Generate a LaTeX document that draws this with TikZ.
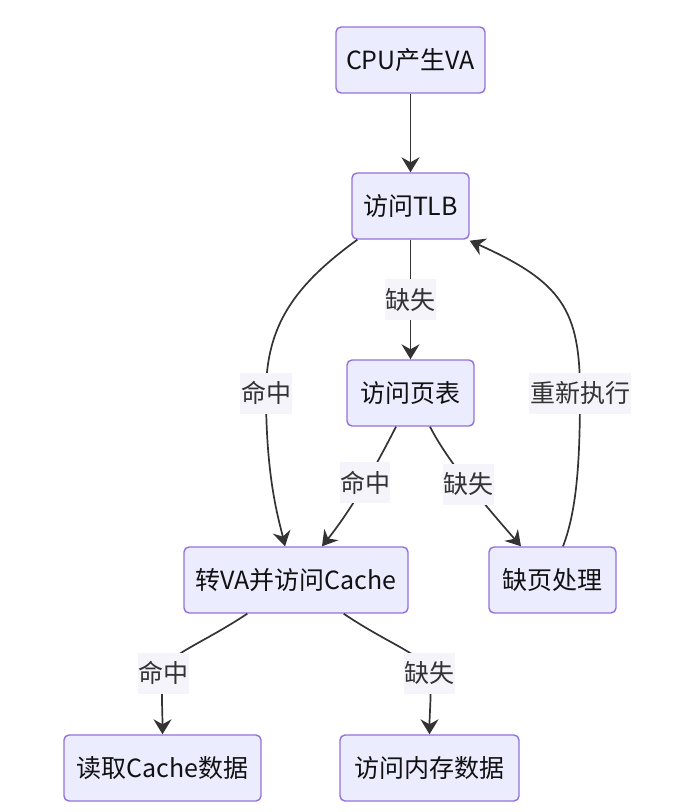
\documentclass[tikz,border=0pt]{standalone}
\usepackage{fontspec}
\setmainfont{Noto Sans CJK SC}
\usetikzlibrary{arrows.meta}
\definecolor{nodefill}{HTML}{ECECFF}
\definecolor{nodedraw}{HTML}{9370DB}
\definecolor{edgecol}{HTML}{333333}
\definecolor{lblfill}{HTML}{F4F4FA}
\definecolor{txtcol}{HTML}{111111}
\tikzset{
  box/.style={draw=nodedraw, fill=nodefill, line width=1.4pt, rounded corners=5pt,
    minimum height=66pt, inner xsep=0pt, text=txtcol,
    font=\fontsize{25}{29}\selectfont},
  lbl/.style={fill=lblfill, text=edgecol, minimum height=41pt, inner xsep=0pt, inner ysep=0pt,
    font=\fontsize{25}{29}\selectfont},
  edge/.style={draw=edgecol, line width=1.7pt,
    -{Stealth[length=15pt, width=18pt, inset=5pt]}},
}
\begin{document}
\begin{tikzpicture}[x=1pt, y=-1pt]
\useasboundingbox (0,0) rectangle (690,812);
\node[box, minimum width=149pt] (cpu)   at (410.5,60)  {CPU产生VA};
\node[box, minimum width=117pt] (tlb)   at (410.5,206) {访问TLB};
\node[box, minimum width=127pt] (pt)    at (410.5,393) {访问页表};
\node[box, minimum width=224pt] (cache) at (296,580)   {转VA并访问Cache};
\node[box, minimum width=127pt] (fault) at (552.5,580) {缺页处理};
\node[box, minimum width=197pt] (read)  at (162.5,768) {读取Cache数据};
\node[box, minimum width=179pt] (mem)   at (429.5,768) {访问内存数据};

\draw[edge] (cpu) -- (tlb);
\draw[edge] (tlb) -- node[lbl, minimum width=51pt] (l1) {缺失} (pt);
\draw[edge] ([xshift=6pt]tlb.south west)
   .. controls (295,285) and (266,325) .. (266,393) node[lbl, minimum width=52pt] (l2) {命中}
   .. controls (266,480) and (279,520) .. ([xshift=-11pt]cache.north);
\draw[edge] ([xshift=-14.5pt]pt.south)
   .. controls (380,458) and (355,505) .. ([xshift=26pt]cache.north)
   node[lbl, minimum width=50pt, pos=0.5] (l3) {命中};
\draw[edge] ([xshift=19.5pt]pt.south)
   .. controls (448,462) and (485,505) .. ([xshift=-31.5pt]fault.north)
   node[lbl, minimum width=51pt, pos=0.5] (l4) {缺失};
\draw[edge] ([xshift=10.5pt]fault.north)
   .. controls (577,510) and (580,460) .. (580,393) node[lbl, minimum width=102pt] (l5) {重新执行}
   .. controls (580,310) and (562,282) .. ([yshift=-1pt]tlb.north east |- tlb.south east);
\draw[edge] ([xshift=64pt]cache.south west)
   .. controls (200,645) and (166,655) .. (163,673) node[lbl, minimum width=51pt] (l6) {命中}
   .. controls (161,690) and (162.5,712) .. (read.north);
\draw[edge] ([xshift=-65pt]cache.south east)
   .. controls (390,645) and (425,655) .. (429.5,673) node[lbl, minimum width=51pt] (l7) {缺失}
   .. controls (432,690) and (429.5,712) .. (mem.north);
\end{tikzpicture}
\end{document}
